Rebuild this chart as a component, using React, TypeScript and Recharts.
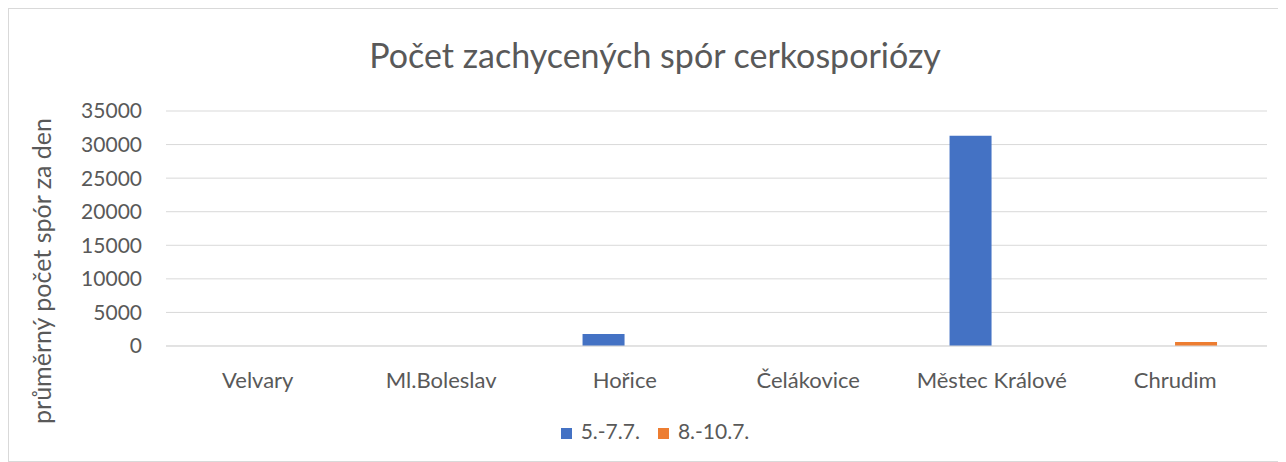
import { BarChart, Bar, XAxis, YAxis, CartesianGrid, Legend } from 'recharts'

const CATEGORIES = ['Velvary', 'Ml.Boleslav', 'Hořice', 'Čelákovice', 'Městec Králové', 'Chrudim']
const SERIES_1 = [0, 0, 1780, 0, 31300, 0]
const SERIES_2 = [0, 0, 0, 0, 0, 600]
const Y_TICKS = [0, 5000, 10000, 15000, 20000, 25000, 30000, 35000]

const data = CATEGORIES.map((name, i) => ({
  name,
  a: SERIES_1[i],
  b: SERIES_2[i],
}))

const FONT = 'Lato, "Open Sans", sans-serif'
const GRAY = '#595959'

export default function App() {
  return (
    <div
      style={{
        position: 'relative',
        width: 1270,
        height: 452,
        border: '1px solid #d9d9d9',
        fontFamily: FONT,
        background: '#fff',
      }}
    >
      <div
        style={{
          position: 'absolute',
          top: 25,
          left: 11,
          width: '100%',
          textAlign: 'center',
          fontSize: 34,
          color: GRAY,
        }}
      >
        Počet zachycených spór cerkosporiózy
      </div>
      <div
        style={{
          position: 'absolute',
          left: 32,
          top: 262,
          width: 0,
          height: 0,
          overflow: 'visible',
        }}
      >
        <div
          style={{
            position: 'absolute',
            left: 0,
            top: 0,
            transform: 'translate(-50%, -50%) rotate(-90deg)',
            whiteSpace: 'nowrap',
            fontSize: 25,
            color: GRAY,
          }}
        >
          průměrný počet spór za den
        </div>
      </div>
      <BarChart
        width={1270}
        height={452}
        data={data}
        margin={{ top: 102, right: 12, bottom: 60, left: 60 }}
        barCategoryGap="27%"
        barGap={0}
      >
        <CartesianGrid vertical={false} stroke="#d9d9d9" />
        <XAxis
          dataKey="name"
          axisLine={{ stroke: '#d9d9d9' }}
          tickLine={false}
          tick={{ fill: GRAY, fontSize: 22, fontFamily: FONT }}
          tickMargin={20}
          interval={0}
        />
        <YAxis
          ticks={Y_TICKS}
          domain={[0, 35000]}
          axisLine={false}
          tickLine={false}
          tick={{ fill: GRAY, fontSize: 21, fontFamily: FONT }}
          tickMargin={18}
          interval={0}
          width={97}
        />
        <Legend
          verticalAlign="bottom"
          iconType="square"
          iconSize={11}
          wrapperStyle={{ position: 'absolute', top: 409, left: 20, width: 1270, fontSize: 21, fontFamily: FONT }}
          formatter={(v) => <span style={{ color: GRAY, marginLeft: 5, marginRight: 8 }}>{v}</span>}
        />
        <Bar dataKey="a" name="5.-7.7." fill="#4472c4" isAnimationActive={false} />
        <Bar dataKey="b" name="8.-10.7." fill="#ed7d31" isAnimationActive={false} />
      </BarChart>
    </div>
  )
}
